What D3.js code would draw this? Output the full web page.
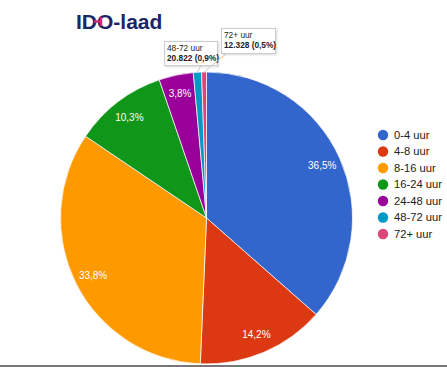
<!doctype html>
<html lang="nl">
<head>
<meta charset="utf-8">
<script src="https://d3js.org/d3.v7.min.js"></script>
<style>
  body { margin: 0; background: #fff; }
  text { font-family: Arial, "Liberation Sans", sans-serif; }
</style>
</head>
<body>
<div id="chart"></div>
<script>
// categories and counts (percentages)
var categories = ["0-4 uur", "4-8 uur", "8-16 uur", "16-24 uur", "24-48 uur", "48-72 uur", "72+ uur"];
var counts = [839500, 326600, 777400, 236900, 87400, 20822, 12328];
var colors = ["#3366cc", "#dc3912", "#ff9900", "#109618", "#990099", "#0099c6", "#dd4477"];
var tooltipIdx = [5, 6];

var W = 447, H = 367;
var cx = 206.5, cy = 218, r = 146;

var svg = d3.select("#chart").append("svg")
    .attr("width", W).attr("height", H);

svg.append("rect").attr("width", W).attr("height", H).attr("fill", "#fff");

// logo
var logo = svg.append("text")
    .attr("x", 76).attr("y", 29)
    .attr("font-size", 21).attr("font-weight", "bold")
    .attr("fill", "#1a2566");
logo.append("tspan").text("ID");
logo.append("tspan").text("O-laad");
svg.append("path")
    .attr("d", "M94,21.5 h7 M101,17 v9")
    .attr("stroke", "#d6247a").attr("stroke-width", 2.5).attr("fill", "none");

var total = d3.sum(counts);
var data = categories.map(function(c, i) { return { name: c, value: counts[i], color: colors[i] }; });
var pie = d3.pie().sort(null).value(function(d) { return d.value; });
var arcs = pie(data);
var arc = d3.arc().innerRadius(0).outerRadius(r);
var labelArc = d3.arc().innerRadius(127).outerRadius(127);

var g = svg.append("g").attr("transform", "translate(" + cx + "," + cy + ")");
g.selectAll("path").data(arcs).enter().append("path")
    .attr("d", arc)
    .attr("fill", function(d) { return d.data.color; })
    .attr("stroke", "#fff").attr("stroke-width", 0.7);

var fmt = function(p) { return (Math.round(p * 1000) / 10).toFixed(1).replace(".", ","); };

g.selectAll("text.pct").data(arcs.filter(function(d) { return d.value / total > 0.02; }))
    .enter().append("text")
    .attr("class", "pct")
    .attr("transform", function(d) { return "translate(" + labelArc.centroid(d) + ")"; })
    .attr("text-anchor", "middle").attr("dy", "0.35em")
    .attr("font-size", 10).attr("fill", "#fff")
    .text(function(d) { return fmt(d.value / total) + "%"; });

// tooltips for the small slices
var boxes = [{ x: 164, y: 41, w: 53, h: 24 }, { x: 221, y: 28, w: 54, h: 25 }];
var numFmt = function(v) { return d3.format(",")(v).replace(/,/g, "."); };
tooltipIdx.forEach(function(idx, k) {
  var a = arcs[idx], b = boxes[k];
  var mid = (a.startAngle + a.endAngle) / 2;
  var px = cx + Math.sin(mid) * r, py = cy - Math.cos(mid) * r;
  var ax = k === 0 ? b.x + b.w * 0.7 : b.x + 6;
  svg.append("line")
      .attr("x1", ax).attr("y1", b.y + b.h)
      .attr("x2", px).attr("y2", py)
      .attr("stroke", "#ccc").attr("stroke-width", 1);
  svg.append("rect")
      .attr("x", b.x + 0.5).attr("y", b.y + 0.5).attr("width", b.w).attr("height", b.h)
      .attr("fill", "#fff").attr("stroke", "#ccc").attr("stroke-width", 1)
      .style("filter", "drop-shadow(1px 1px 1px rgba(0,0,0,0.15))");
  svg.append("text")
      .attr("x", b.x + 3).attr("y", b.y + 10)
      .attr("font-size", 8.3).attr("fill", "#222")
      .text(a.data.name);
  svg.append("text")
      .attr("x", b.x + 3).attr("y", b.y + 20)
      .attr("font-size", 8.3).attr("font-weight", "bold").attr("fill", "#222")
      .text(numFmt(a.data.value) + " (" + fmt(a.data.value / total) + "%)");
});

// legend
var legend = svg.append("g").attr("transform", "translate(383,135)");
var item = legend.selectAll("g").data(data).enter().append("g")
    .attr("transform", function(d, i) { return "translate(0," + (i * 16.5) + ")"; });
item.append("circle").attr("r", 5.2).attr("fill", function(d) { return d.color; });
item.append("text")
    .attr("x", 11).attr("dy", "0.35em")
    .attr("font-size", 11.2).attr("fill", "#222")
    .text(function(d) { return d.name; });

// bottom border
svg.append("rect").attr("x", 0).attr("y", 365).attr("width", W).attr("height", 2).attr("fill", "#777");
</script>
</body>
</html>
